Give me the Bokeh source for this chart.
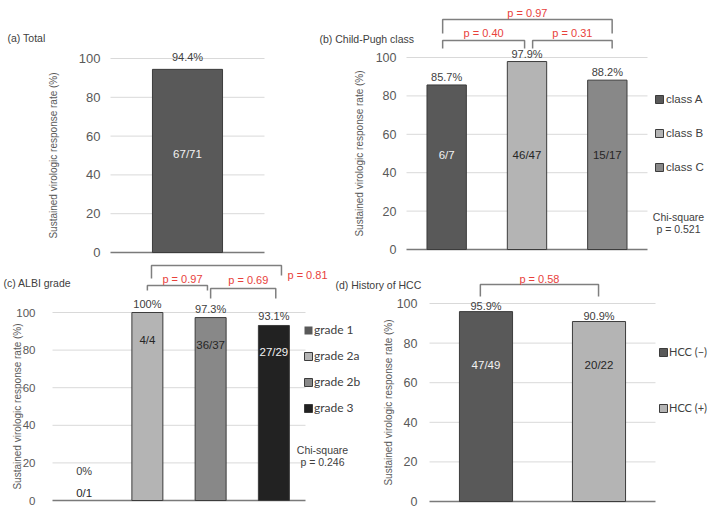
import math
from bokeh.plotting import figure
from bokeh.models import Range1d, Legend, LegendItem, ColumnDataSource
from bokeh.core.properties import value
from bokeh.embed import file_html
from bokeh.resources import INLINE

# ---------------- data ----------------
total_groups = ["Total"]
total_rates = [94.4]
total_counts = ["67/71"]

cp_groups = ["class A", "class B", "class C"]
cp_rates = [85.7, 97.9, 88.2]
cp_counts = ["6/7", "46/47", "15/17"]
cp_tests = [("class A", "class B", "p = 0.40"),
            ("class B", "class C", "p = 0.31"),
            ("class A", "class C", "p = 0.97")]
cp_chi = ["Chi-square", "p = 0.521"]

albi_groups = ["grade 1", "grade 2a", "grade 2b", "grade 3"]
albi_rates = [0.0, 100.0, 97.3, 93.1]
albi_counts = ["0/1", "4/4", "36/37", "27/29"]
albi_tests = [("grade 2a", "grade 2b", "p = 0.97"),
              ("grade 2b", "grade 3", "p = 0.69"),
              ("grade 2a", "grade 3", "p = 0.81")]
albi_chi = ["Chi-square", "p = 0.246"]

hcc_groups = ["HCC (\u2212)", "HCC (+)"]
hcc_rates = [95.9, 90.9]
hcc_counts = ["47/49", "20/22"]
hcc_tests = [("HCC (\u2212)", "HCC (+)", "p = 0.58")]

panel_titles = ["(a) Total", "(b) Child-Pugh class", "(c) ALBI grade", "(d) History of HCC"]
y_ticks = [0, 20, 40, 60, 80, 100]
y_title = "Sustained virologic response rate (%)"

# ---------------- styles / layout ----------------
W, H = 708, 510
FONT = "Liberation Sans"
LFONT = "Lato"
TXT = "#404040"
AX = "#595959"
RED = "#e8413c"
BRK = "#7f7f7f"
DARK, LIGHT, MID, BLACK = "#595959", "#b4b4b4", "#888888", "#222222"
WHITE_T, DARK_T = "#f2f2f2", "#262626"

# plot-area geometry of each panel in canvas pixels: left, right, baseline, 100-line
GEOM = {
    "a": dict(fl=110, fr=264, fb=252, y100=58, n=len(total_groups)),
    "b": dict(fl=406, fr=647, fb=249, y100=57, n=len(cp_groups)),
    "c": dict(fl=52, fr=305, fb=500, y100=312, n=len(albi_groups)),
    "d": dict(fl=429, fr=655, fb=501, y100=303, n=len(hcc_groups)),
}
xr, yr = {}, {}
for k, g in GEOM.items():
    g["ppu"] = (g["fb"] - g["y100"]) / 100.0
    g["xppu"] = (g["fr"] - g["fl"]) / g["n"]
    xr[k] = Range1d((0 - g["fl"]) / g["xppu"], (W - g["fl"]) / g["xppu"])
    yr[k] = Range1d((g["fb"] - H) / g["ppu"], g["fb"] / g["ppu"])

p = figure(width=W, height=H, x_range=Range1d(0, W), y_range=Range1d(0, H),
           extra_x_ranges=xr, extra_y_ranges=yr, min_border=0,
           x_axis_location=None, y_axis_location=None,
           output_backend="svg", toolbar_location=None)
p.outline_line_color = None
p.grid.visible = False
p.background_fill_color = "white"
p.border_fill_color = "white"


class Panel:
    def __init__(self, key, groups, rates, counts, colors, count_colors,
                 tick_size, tick_standoff, ylabel_x):
        self.key = key
        self.g = GEOM[key]
        self.kw = dict(x_range_name=key, y_range_name=key)
        self.groups = groups
        self.rates = rates
        n = len(groups)
        self.n = n
        # grid lines and baseline
        grid = ColumnDataSource(dict(y=y_ticks[1:]))
        p.segment(x0=0, x1=n, y0="y", y1="y", source=grid, line_color="#d9d9d9",
                  line_width=1, **self.kw)
        p.segment(x0=[0], x1=[n], y0=[0], y1=[0], line_color="#7a7a7a", line_width=1.5, **self.kw)
        # tick labels
        ticks = ColumnDataSource(dict(y=y_ticks, t=[str(t) for t in y_ticks]))
        p.text(x=0, y="y", text="t", source=ticks, x_offset=-tick_standoff,
               text_align="right", text_baseline="middle", text_font=value(FONT),
               text_font_size=tick_size, text_color=AX, **self.kw)
        # y title
        p.text(x=[self.px(ylabel_x)], y=[50], text=[y_title], angle=math.pi / 2,
               text_align="center", text_baseline="middle", text_font=value(FONT),
               text_font_size="10px", text_color=AX, **self.kw)
        self.src = ColumnDataSource(dict(
            x=[i + 0.5 for i in range(n)], top=rates, color=colors,
            la=[1 if r > 0 else 0 for r in rates],
            pct=["%g%%" % r for r in rates], count=counts, ccol=count_colors))

    def px(self, x):
        return (x - self.g["fl"]) / self.g["xppu"]

    def py(self, y):
        return (self.g["fb"] - y) / self.g["ppu"]

    def bars(self, width):
        self.r = p.vbar(x="x", top="top", width=width, bottom=0, source=self.src,
                        fill_color="color", line_color="#3c3c3c", line_alpha="la",
                        line_width=1, **self.kw)

    def labels(self, pct_gap, count_y_fn):
        u = self.g["ppu"]
        pct_y, cnt_y = [], []
        for r in self.rates:
            if r * u < 40:
                cy = r + 8 / u
                cnt_y.append(cy)
                pct_y.append(cy + 22 / u)
            else:
                pct_y.append(r + pct_gap / u)
                cnt_y.append(count_y_fn(r, u))
        self.src.data["pct_y"] = pct_y
        self.src.data["cnt_y"] = cnt_y
        p.text(x="x", y="pct_y", text="pct", source=self.src, text_align="center",
               text_baseline="middle", text_font=value(FONT), text_font_size="11px",
               text_color=TXT, **self.kw)
        p.text(x="x", y="cnt_y", text="count", source=self.src, text_align="center",
               text_baseline="middle", text_font=value(FONT), text_font_size="11.5px",
               text_color="ccol", **self.kw)

    def text(self, x, y, s, size="10.5px", color=TXT, align="left", font=FONT):
        p.text(x=[x], y=[y], text=[s], text_align=align, text_baseline="middle",
               text_font=value(font), text_font_size=size, text_color=color, **self.kw)

    def page_text(self, x, y, s, size="10.5px", color=TXT, align="left"):
        self.text(self.px(x), self.py(y), s, size, color, align)

    def bracket(self, test, dl, dr, top, leg_l, leg_r, tdx=0.0, tdy=8, text_at=None):
        a = self.groups.index(test[0]) + 0.5 + dl
        b = self.groups.index(test[1]) + 0.5 + dr
        p.line(x=[a, a, b, b], y=[leg_l, top, top, leg_r], line_color=BRK, line_width=1.5,
               **self.kw)
        if text_at is None:
            self.text((a + b) / 2 + tdx, top + tdy / self.g["ppu"], test[2], "11px", RED, "center")
        else:
            self.text(text_at[0], text_at[1], test[2], "11px", RED, "center")

    def legend(self, left_px, center_first, center_last, font, size, standoff):
        items = [LegendItem(label=g, renderers=[self.r], index=i) for i, g in enumerate(self.groups)]
        h = 10
        spacing = (center_last - center_first) / (self.n - 1) - h
        bottom = center_last + h / 2
        leg = Legend(items=items, location=(left_px, H - bottom),
                     glyph_width=10, glyph_height=10, label_height=10, label_standoff=standoff,
                     spacing=int(round(spacing)), padding=0, margin=0,
                     border_line_alpha=0, background_fill_alpha=0,
                     label_text_font=font, label_text_font_size=size, label_text_color=TXT)
        p.add_layout(leg)


# ---------------- (a) Total ----------------
A = Panel("a", total_groups, total_rates, total_counts, [DARK], [WHITE_T], "13px", 10, 52.5)
A.bars(0.455)
A.labels(12, lambda r, u: 51)
A.page_text(7, 37, panel_titles[0])

# ---------------- (b) Child-Pugh ----------------
B = Panel("b", cp_groups, cp_rates, cp_counts, [DARK, LIGHT, MID], [WHITE_T, DARK_T, DARK_T],
          "12.5px", 10, 359)
B.bars(0.49)
B.labels(8, lambda r, u: 49)
B.page_text(319, 38, panel_titles[1])
B.bracket(cp_tests[0], -0.05, -0.03, B.py(40), B.py(48), B.py(48))
B.bracket(cp_tests[1], 0.07, 0.06, B.py(40), B.py(48), B.py(48))
B.bracket(cp_tests[2], -0.05, 0.06, B.py(19), B.py(33), B.py(33), tdy=7)
B.legend(654, 103, 168, FONT, "11.5px", 2)
B.page_text(678, 216, cp_chi[0], "10.5px", TXT, "center")
B.page_text(678, 228, cp_chi[1], "10.5px", TXT, "center")

# ---------------- (c) ALBI ----------------
C = Panel("c", albi_groups, albi_rates, albi_counts, [DARK, LIGHT, MID, BLACK],
          [DARK_T, DARK_T, DARK_T, WHITE_T], "11.5px", 17, 16.5)
C.bars(0.49)
C.labels(9, lambda r, u: r - 27 / u)
C.page_text(3, 282, panel_titles[2])
C.bracket(albi_tests[0], 0.0, -0.05, C.py(285), C.py(290), C.py(290), tdx=0.08, tdy=7)
C.bracket(albi_tests[1], 0.0, 0.03, C.py(288), C.py(298), C.py(298), tdx=0.08, tdy=9)
C.bracket(albi_tests[2], 0.065, 0.12, C.py(265), C.py(278), C.py(275),
          text_at=(C.px(307), C.py(274)))
C.legend(303, 348, 410, LFONT, "12px", 1)
C.page_text(322, 449, albi_chi[0], "10.5px", TXT, "center")
C.page_text(322, 461, albi_chi[1], "10.5px", TXT, "center")

# ---------------- (d) History of HCC ----------------
D = Panel("d", hcc_groups, hcc_rates, hcc_counts, [DARK, LIGHT], [WHITE_T, DARK_T],
          "12.5px", 12, 387.5)
D.bars(0.47)
D.labels(6, lambda r, u: 69)
D.page_text(335, 284, panel_titles[3])
D.bracket(hcc_tests[0], -0.05, -0.004, D.py(284), D.py(296), D.py(296), tdy=6)
D.legend(658, 356, 409, LFONT, "11px", 1)

open("out.html", "w").write(file_html(p, INLINE))
